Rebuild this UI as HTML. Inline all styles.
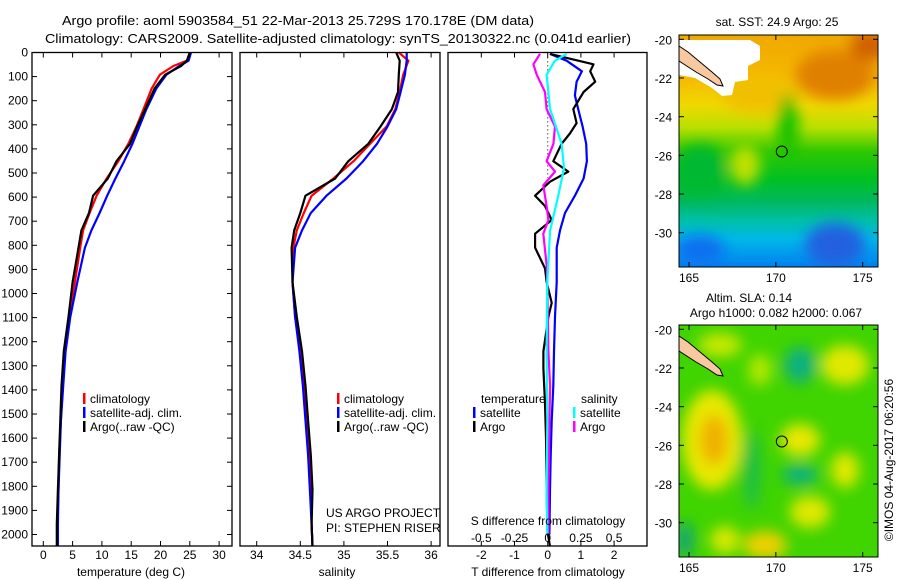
<!DOCTYPE html>
<html><head><meta charset="utf-8"><style>
html,body{margin:0;padding:0;background:#fff;}
svg{display:block;font-family:"Liberation Sans",sans-serif;}
text{fill:#000;}
</style></head><body>
<svg id="chart" width="900" height="580" viewBox="0 0 900 580" xmlns="http://www.w3.org/2000/svg">
<defs>
<filter id="blur6" x="-50%" y="-50%" width="200%" height="200%"><feGaussianBlur stdDeviation="7"/></filter>
<linearGradient id="sstGrad" x1="0" y1="0" x2="0" y2="1">
<stop offset="0" stop-color="#f0a800"/><stop offset="0.18" stop-color="#f5b800"/>
<stop offset="0.3" stop-color="#f0d800"/><stop offset="0.4" stop-color="#b8e000"/>
<stop offset="0.5" stop-color="#30c800"/><stop offset="0.62" stop-color="#00c020"/>
<stop offset="0.72" stop-color="#00b860"/><stop offset="0.8" stop-color="#00c0a8"/>
<stop offset="0.88" stop-color="#00b8e8"/><stop offset="1" stop-color="#0080f0"/>
</linearGradient>
<clipPath id="clipTop"><rect x="679" y="35" width="199" height="232"/></clipPath>
<clipPath id="clipBot"><rect x="679" y="325" width="199" height="232"/></clipPath>
</defs>
<text x="62" y="25" font-size="13" textLength="472" lengthAdjust="spacingAndGlyphs">Argo profile: aoml 5903584_51 22-Mar-2013 25.729S 170.178E (DM data)</text>
<text x="45" y="43" font-size="13" textLength="586" lengthAdjust="spacingAndGlyphs">Climatology: CARS2009. Satellite-adjusted climatology: synTS_20130322.nc (0.041d earlier)</text>

<g clip-path="url(#clipTop)">
<rect x="679" y="35" width="199" height="232" fill="url(#sstGrad)"/>
<g filter="url(#blur6)">
<ellipse cx="835" cy="75" rx="40" ry="25" fill="#e08000"/>
<ellipse cx="870" cy="45" rx="20" ry="15" fill="#d06000"/>
<ellipse cx="760" cy="95" rx="40" ry="18" fill="#f0c000"/>
<ellipse cx="788" cy="125" rx="10" ry="30" fill="#10c000"/>
<ellipse cx="700" cy="170" rx="25" ry="25" fill="#00b830"/>
<ellipse cx="745" cy="165" rx="15" ry="20" fill="#c0e000"/>
<ellipse cx="835" cy="245" rx="30" ry="22" fill="#2060e0"/>
<ellipse cx="700" cy="250" rx="25" ry="15" fill="#1070f0"/>
</g>
<polygon points="679,40 750,40 760,46 760,60 748,66 748,80 735,82 732,95 722,96 712,88 695,78 679,75" fill="#fff"/>
</g>
<g>
<polygon points="679,46 688,52 700,62 712,72 720,79 723,86 717,85 708,79 696,72 679,61" fill="#f8c8a0" stroke="#000" stroke-width="1"/>
</g>
<circle cx="781.8" cy="151.5" r="5.5" fill="none" stroke="#000" stroke-width="1"/>
<rect x="679" y="35" width="199" height="232" fill="none" stroke="#000"/>
<text x="777" y="26" font-size="12" text-anchor="middle">sat. SST: 24.9 Argo: 25</text>

<g clip-path="url(#clipBot)">
<rect x="679" y="325" width="199" height="232" fill="#40d400"/>
<g filter="url(#blur6)">
<ellipse cx="712" cy="440" rx="30" ry="50" fill="#e8e800"/>
<ellipse cx="714" cy="440" rx="14" ry="25" fill="#f0b000"/>
<ellipse cx="845" cy="365" rx="24" ry="20" fill="#e0e800"/>
<ellipse cx="800" cy="440" rx="20" ry="16" fill="#e8e800"/>
<ellipse cx="845" cy="470" rx="14" ry="18" fill="#e0e800"/>
<ellipse cx="810" cy="512" rx="20" ry="16" fill="#e0e800"/>
<ellipse cx="765" cy="545" rx="22" ry="14" fill="#f0d000"/>
<ellipse cx="720" cy="345" rx="22" ry="12" fill="#c8e800"/>
<ellipse cx="725" cy="540" rx="15" ry="14" fill="#d8e800"/>
<ellipse cx="760" cy="370" rx="12" ry="16" fill="#b0e800"/>
<ellipse cx="800" cy="365" rx="16" ry="18" fill="#10b080"/>
<ellipse cx="800" cy="475" rx="18" ry="10" fill="#10b080"/>
<ellipse cx="752" cy="470" rx="10" ry="40" fill="#20c040"/>
<ellipse cx="685" cy="540" rx="8" ry="18" fill="#10a080"/>
</g>
<polygon points="679,46 688,52 700,62 712,72 720,79 723,86 717,85 708,79 696,72 679,61" transform="translate(0,290)" fill="#f8c8a0" stroke="#000" stroke-width="1"/>
</g>
<circle cx="781.8" cy="441.5" r="5.5" fill="none" stroke="#000" stroke-width="1"/>
<rect x="679" y="325" width="199" height="232" fill="none" stroke="#000"/>
<text x="749" y="302" font-size="12" text-anchor="middle">Altim. SLA: 0.14</text>
<text x="776" y="317" font-size="12" text-anchor="middle">Argo h1000: 0.082 h2000: 0.067</text>
<text transform="translate(893,460) rotate(-90)" font-size="12" text-anchor="middle">©IMOS 04-Aug-2017 06:20:56</text>

<g id="plots"></g>
</svg>
<script>
const depthT = [0,34,56,92,149,235,307,379,451,523,594,666,738,810,953,1097,1240,1384,1528,1671,1815,1958,2050];
const tempClim = [25.0,24.5,22.2,19.9,18.5,17.1,15.9,14.5,12.8,10.8,9.1,7.9,6.8,6.3,5.4,4.4,3.7,3.2,3.0,2.7,2.6,2.4,2.4];
const tempSat  = [25.2,24.8,23.2,21.0,19.3,17.6,16.4,15.2,13.8,12.3,10.9,9.6,8.2,7.1,5.8,4.6,3.8,3.4,3.0,2.8,2.6,2.5,2.5];
const tempArgo = [25.0,24.5,23.5,20.8,19.0,17.4,16.0,14.8,12.5,11.0,8.5,7.8,6.5,6.0,5.0,4.3,3.5,3.1,2.9,2.7,2.5,2.3,2.3];
const depthS = [0,34,92,164,235,307,379,451,523,594,666,738,810,953,1097,1240,1384,1528,1671,1815,1958,2050];
const salClim = [35.63,35.74,35.68,35.64,35.59,35.49,35.30,35.11,34.88,34.63,34.54,34.46,34.42,34.41,34.44,34.50,34.54,34.57,34.60,34.62,34.63,34.64];
const salSat  = [35.72,35.72,35.70,35.65,35.60,35.50,35.38,35.22,35.03,34.80,34.62,34.52,34.44,34.41,34.44,34.49,34.53,34.56,34.59,34.61,34.63,34.64];
const salArgo = [35.60,35.64,35.63,35.62,35.55,35.42,35.28,35.05,34.90,34.56,34.50,34.43,34.40,34.41,34.46,34.52,34.56,34.59,34.62,34.64,34.63,34.64];
const depthDTA = [6,49,78,121,164,235,293,336,379,451,494,536,594,637,695,752,810,896,953,1039,1097,1240,1311,1455,1598,1815,1986,2050];
const diffTArgo = [0.07,1.38,1.28,1.43,1.08,0.77,0.87,0.67,0.42,0.17,0.62,0.07,-0.38,-0.08,0.12,-0.38,-0.38,-0.08,-0.03,0.12,0.02,-0.13,-0.13,-0.08,-0.05,-0.03,-0.01,0.07];
const depthDTS = [6,34,78,121,178,235,307,379,451,523,594,666,738,810,953,1097,1240,1384,1528,1671,1815,2000];
const diffTSat = [0.07,0.57,1.03,0.87,0.82,0.92,1.05,1.16,1.18,1.08,0.82,0.52,0.37,0.27,0.27,0.22,0.19,0.17,0.12,0.09,0.07,0.05];
const depthDSS = [6,34,92,235,379,479,594,738,953,1240,1528,1815,2000];
const diffSSat = [0.143,0.055,-0.008,0.018,0.105,0.123,0.08,0.018,-0.003,-0.008,-0.003,-0.008,-0.003];
const depthDSA = [6,49,92,164,235,307,379,451,494,551,637,695,752,881,953,1240,1384,1528,1815,2000];
const diffSArgo = [-0.058,-0.108,-0.083,-0.02,-0.008,0.055,0.043,-0.008,0.055,-0.033,-0.008,0.005,-0.033,-0.008,-0.003,0.005,0.018,0.013,0.005,0.005];
const depthTicks = [0,100,200,300,400,500,600,700,800,900,1000,1100,1200,1300,1400,1500,1600,1700,1800,1900,2000];
const tempTicks = [0,5,10,15,20,25,30];
const salTicks = [34,34.5,35,35.5,36];
const salTickLabels = ["34","34.5","35","35.5","36"];
const dTTicks = [-2,-1,0,1,2];
const dSTicks = [-0.5,-0.25,0,0.25,0.5];
const dSTickLabels = ["-0.5","-0.25","0","0.25","0.5"];

const NS = "http://www.w3.org/2000/svg";
const root = document.getElementById('plots');
const top0 = 52.5, bot0 = 546;
const yD = d => top0 + d * 0.241;
const P1 = {x0:32, x1:232}, P2 = {x0:240, x1:440}, P3 = {x0:448, x1:647};
const xT = v => 43.3 + v * 5.86;
const xS = v => 256.7 + (v - 34) * 87.2;
const xDT = v => 547.7 + v * 33.2;
const xDS = v => 547.7 + v * 4 * 33.2;

function mk(tag, attrs, parent) {
  const e = document.createElementNS(NS, tag);
  for (const k in attrs) e.setAttribute(k, attrs[k]);
  (parent || root).appendChild(e);
  return e;
}
function txt(s, x, y, size, anchor, name) {
  const t = mk('text', {x:x, y:y, 'font-size':size, 'text-anchor':anchor || 'start'});
  
  
  t.textContent = s;
  return t;
}
function series(xs, ds, xf, color, name, w) {
  const pts = xs.map((v, i) => xf(v).toFixed(1) + ',' + yD(ds[i]).toFixed(1)).join(' ');
  const p = mk('polyline', {points: pts, fill:'none', stroke:color, 'stroke-width': w || 2.2, 'stroke-linejoin':'round'});
  
  
}
function frame(P, name) {
  const r = mk('rect', {x:P.x0, y:top0, width:P.x1 - P.x0, height:bot0 - top0, fill:'none', stroke:'#000', 'stroke-width':1.3});
  
  
}
function xTicks(P, ticks, labels, xf, y, name) {
  ticks.forEach((v, i) => {
    const x = xf(v);
    mk('line', {x1:x, x2:x, y1:bot0, y2:bot0 - 5, stroke:'#000'});
    mk('line', {x1:x, x2:x, y1:top0, y2:top0 + 5, stroke:'#000'});
    if (y) txt(labels[i], x, y, 12, 'middle', name);
  });
}

series(tempClim, depthT, xT, '#f00', 'temp-climatology-line');
series(tempSat, depthT, xT, '#00f', 'temp-satellite-line');
series(tempArgo, depthT, xT, '#000', 'temp-argo-line');
frame(P1, 'temperature-panel-frame');
depthTicks.forEach(d => {
  const y = yD(d);
  mk('line', {x1:P1.x0, x2:P1.x0 + 5, y1:y, y2:y, stroke:'#000'});
  mk('line', {x1:P1.x1, x2:P1.x1 - 5, y1:y, y2:y, stroke:'#000'});
  txt(String(d), 28, y + 4, 12, 'end', 'depth-tick-label');
});
xTicks(P1, tempTicks, tempTicks.map(String), xT, 559, 'temp-tick-label');
txt('temperature (deg C)', 131, 576, 12, 'middle', 'temperature-axis-title');

series(salClim, depthS, xS, '#f00', 'sal-climatology-line');
series(salSat, depthS, xS, '#00f', 'sal-satellite-line');
series(salArgo, depthS, xS, '#000', 'sal-argo-line');
frame(P2, 'salinity-panel-frame');
xTicks(P2, salTicks, salTickLabels, xS, 559, 'sal-tick-label');
txt('salinity', 337, 576, 12, 'middle', 'salinity-axis-title');
txt('US ARGO PROJECT', 326, 517, 12, 'start', 'project-credit');
txt('PI: STEPHEN RISER', 326, 532, 12, 'start', 'pi-credit');

const zl = mk('line', {x1:xDT(0), x2:xDT(0), y1:yD(20), y2:yD(520), stroke:'#000', 'stroke-dasharray':'1,3'});


series(diffTSat, depthDTS, xDT, '#00f', 'tdiff-satellite-line');
series(diffTArgo, depthDTA, xDT, '#000', 'tdiff-argo-line');
series(diffSArgo, depthDSA, xDS, '#f0f', 'sdiff-argo-line');
series(diffSSat, depthDSS, xDS, '#0ff', 'sdiff-satellite-line');
frame(P3, 'difference-panel-frame');
xTicks(P3, dTTicks, dTTicks.map(String), xDT, 559, 'tdiff-tick-label');
dSTicks.forEach((v, i) => txt(dSTickLabels[i], xDS(v), 542, 12, 'middle', 'sdiff-tick-label'));
txt('S difference from climatology', 548, 525, 12, 'middle', 'sdiff-axis-title');
txt('T difference from climatology', 548, 576, 12, 'middle', 'tdiff-axis-title');

function legendEntry(x, y, color, label, name) {
  const r = mk('rect', {x:x, y:y - 10, width:2.5, height:11, fill:color});
  
  
  txt(label, x + 7, y, 12, 'start', name);
}
legendEntry(83, 403, '#f00', 'climatology', 'legend-climatology');
legendEntry(83, 417, '#00f', 'satellite-adj. clim.', 'legend-satellite');
legendEntry(83, 431, '#000', 'Argo(..raw -QC)', 'legend-argo');
legendEntry(337, 403, '#f00', 'climatology', 'legend2-climatology');
legendEntry(337, 417, '#00f', 'satellite-adj. clim.', 'legend2-satellite');
legendEntry(337, 431, '#000', 'Argo(..raw -QC)', 'legend2-argo');
txt('temperature', 481, 403, 12, 'start', 'legend-temperature-header');
txt('salinity', 581, 403, 12, 'start', 'legend-salinity-header');
legendEntry(473, 417, '#00f', 'satellite', 'legend-tdiff-satellite');
legendEntry(473, 431, '#000', 'Argo', 'legend-tdiff-argo');
legendEntry(573, 417, '#0ff', 'satellite', 'legend-sdiff-satellite');
legendEntry(573, 431, '#f0f', 'Argo', 'legend-sdiff-argo');

const latTicks = [-20,-22,-24,-26,-28,-30];
const lonTicks = [165,170,175];
const yLat = (lat, off) => off + 39.3 + (-20 - lat) * 19.34;
const xLon = lon => 689 + (lon - 165) * 17.37;
[0, 290].forEach(off => {
  latTicks.forEach(l => {
    const y = yLat(l, off);
    mk('line', {x1:679, x2:684, y1:y, y2:y, stroke:'#000'});
    mk('line', {x1:878, x2:873, y1:y, y2:y, stroke:'#000'});
    txt(String(l), 672, y + 5, 12, 'end', 'map-lat-label');
  });
  lonTicks.forEach(l => {
    const x = xLon(l);
    const b = off === 0 ? 267 : 557, t = off === 0 ? 35 : 325;
    mk('line', {x1:x, x2:x, y1:b, y2:b - 5, stroke:'#000'});
    mk('line', {x1:x, x2:x, y1:t, y2:t + 5, stroke:'#000'});
    txt(String(l), x, b + 15, 12, 'middle', 'map-lon-label');
  });
});
</script>
</body></html>
